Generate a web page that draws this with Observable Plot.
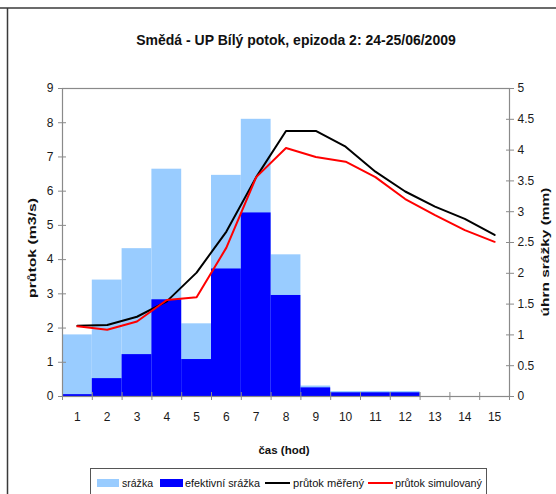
<!DOCTYPE html>
<html>
<head>
<meta charset="utf-8">
<script src="https://cdn.jsdelivr.net/npm/d3@7"></script>
<script src="https://cdn.jsdelivr.net/npm/@observablehq/plot@0.6"></script>
<style>
  html, body { margin: 0; padding: 0; background: #fff; }
  svg { display: block; }
</style>
</head>
<body>
<div id="chart"></div>
<script>
// ---- data ----
const chartTitle = "Smědá - UP Bílý potok, epizoda 2: 24-25/06/2009";
const xTitle = "čas (hod)";
const yTitle = "průtok (m3/s)";
const y2Title = "úhrn srážky (mm)";
const hours = [1, 2, 3, 4, 5, 6, 7, 8, 9, 10, 11, 12, 13, 14, 15];
// rainfall (mm, right axis)
const srazka          = [1.00, 1.89, 2.40, 3.69, 1.18, 3.59, 4.50, 2.30, 0.17, 0.08, 0.08, 0.08, 0, 0, 0];
const efektivniSrazka = [0.03, 0.29, 0.68, 1.57, 0.60, 2.07, 2.98, 1.64, 0.14, 0.06, 0.06, 0.06, 0, 0, 0];
// discharge (m3/s, left axis)
const prutokMereny     = [2.07, 2.09, 2.33, 2.78, 3.62, 4.82, 6.41, 7.76, 7.76, 7.30, 6.57, 5.99, 5.55, 5.19, 4.72];
const prutokSimulovany = [2.05, 1.95, 2.19, 2.82, 2.90, 4.35, 6.41, 7.26, 7.00, 6.86, 6.41, 5.77, 5.30, 4.86, 4.52];
const flowTicks = [0, 1, 2, 3, 4, 5, 6, 7, 8, 9];
const rainTicks = [0, 0.5, 1, 1.5, 2, 2.5, 3, 3.5, 4, 4.5, 5];
const legendLabels = ["srážka", "efektivní srážka", "průtok měřený", "průtok simulovaný"];
const seriesColors = ["#99ccff", "#0000ff", "#000000", "#ff0000"];

// ---- derived ----
const flowMax = 9, rainMax = 5;
const k = flowMax / rainMax; // mm -> left-axis units
const rows = hours.map((h, i) => ({
  h,
  srazka: srazka[i],
  efektivni: efektivniSrazka[i],
  mereny: prutokMereny[i],
  simulovany: prutokSimulovany[i]
}));
const bounds = d3.range(hours[0] - 0.5, hours[hours.length - 1] + 1, 1);
const gray = "#8a8a8a";
const font = "'Liberation Sans', Arial, sans-serif";

const plot = Plot.plot({
  width: 556,
  height: 494,
  marginLeft: 62,
  marginRight: 47,
  marginTop: 88,
  marginBottom: 98,
  x: { type: "linear", domain: [hours[0] - 0.5, hours[hours.length - 1] + 0.5] },
  y: { domain: [0, flowMax] },
  style: { fontFamily: font, fontSize: "12px", color: "#1a1a1a", background: "#fff" },
  marks: [
    Plot.rect(rows, { x1: d => d.h - 0.5, x2: d => d.h + 0.5, y1: 0, y2: d => d.srazka * k, fill: seriesColors[0] }),
    Plot.rect(rows, { x1: d => d.h - 0.5, x2: d => d.h + 0.5, y1: 0, y2: d => d.efektivni * k, fill: seriesColors[1] }),
    Plot.frame({ stroke: gray, strokeWidth: 1.2 }),
    // tick marks (crossing axis lines)
    Plot.axisY({ anchor: "left", ticks: flowTicks, tickSize: 8, dx: 4, tickFormat: () => "", stroke: gray, label: null }),
    Plot.axisY({ anchor: "right", ticks: rainTicks.map(v => v * k), tickSize: 8, dx: -4, tickFormat: () => "", stroke: gray, label: null }),
    Plot.axisX({ anchor: "bottom", ticks: bounds, tickSize: 8, dy: -4, tickFormat: () => "", stroke: gray, label: null }),
    // tick labels
    Plot.axisY({ anchor: "left", ticks: flowTicks, tickSize: 0, tickPadding: 9, tickFormat: d => d, label: null }),
    Plot.axisY({ anchor: "right", ticks: rainTicks.map(v => v * k), tickSize: 0, tickPadding: 8,
      tickFormat: d => String(Math.round(d / k * 10) / 10), label: null }),
    Plot.axisX({ anchor: "bottom", ticks: hours, tickSize: 0, tickPadding: 16, tickFormat: d => d, label: null }),
    // flow lines
    Plot.line(rows, { x: "h", y: "mereny", stroke: seriesColors[2], strokeWidth: 2 }),
    Plot.line(rows, { x: "h", y: "simulovany", stroke: seriesColors[3], strokeWidth: 2 })
  ]
});

document.getElementById("chart").appendChild(plot);

// ---- decorations: frame, titles, legend ----
const svg = d3.select(plot);
svg.append("line").attr("x1", 0).attr("x2", 556).attr("y1", 8).attr("y2", 8)
  .attr("stroke", "#3a3a3a").attr("stroke-width", 1.5);
svg.append("line").attr("x1", 7.5).attr("x2", 7.5).attr("y1", 8).attr("y2", 494)
  .attr("stroke", "#3a3a3a").attr("stroke-width", 1.5);

svg.append("text").text(chartTitle)
  .attr("x", 296).attr("y", 45).attr("text-anchor", "middle")
  .attr("font-family", font).attr("font-size", 14).attr("font-weight", "bold").attr("fill", "#111");

svg.append("text").text(xTitle)
  .attr("x", 284).attr("y", 454).attr("text-anchor", "middle")
  .attr("font-family", font).attr("font-size", 11.5).attr("font-weight", "bold").attr("fill", "#111");

svg.append("text").text(yTitle)
  .attr("transform", "translate(32,248) rotate(-90)").attr("text-anchor", "middle").attr("dy", "0.35em")
  .attr("textLength", 100).attr("lengthAdjust", "spacingAndGlyphs")
  .attr("font-family", font).attr("font-size", 11).attr("font-weight", "bold").attr("fill", "#111");

svg.append("text").text(y2Title)
  .attr("transform", "translate(545,252) rotate(-90)").attr("text-anchor", "middle").attr("dy", "0.35em")
  .attr("textLength", 129).attr("lengthAdjust", "spacingAndGlyphs")
  .attr("font-family", font).attr("font-size", 11).attr("font-weight", "bold").attr("fill", "#111");

// legend
const lg = svg.append("g").attr("text-anchor", "start");
lg.append("rect").attr("x", 90.5).attr("y", 468.5).attr("width", 396).attr("height", 40)
  .attr("fill", "#fff").attr("stroke", "#555").attr("stroke-width", 1);
const items = [
  { type: "box", x: 97, w: 22, tx: 122, tw: 31 },
  { type: "box", x: 160, w: 23, tx: 185, tw: 75 },
  { type: "line", x: 265, w: 25, tx: 293, tw: 71 },
  { type: "line", x: 368, w: 25, tx: 395, tw: 87 }
];
items.forEach((it, i) => {
  if (it.type === "box") {
    lg.append("rect").attr("x", it.x).attr("y", 479).attr("width", it.w).attr("height", 8).attr("fill", seriesColors[i]);
  } else {
    lg.append("line").attr("x1", it.x).attr("x2", it.x + it.w).attr("y1", 483).attr("y2", 483)
      .attr("stroke", seriesColors[i]).attr("stroke-width", 2);
  }
  lg.append("text").text(legendLabels[i]).attr("x", it.tx).attr("y", 487)
    .attr("text-anchor", "start")
    .attr("textLength", it.tw).attr("lengthAdjust", "spacingAndGlyphs")
    .attr("font-family", font).attr("font-size", 11).attr("fill", "#111");
});
</script>
</body>
</html>
